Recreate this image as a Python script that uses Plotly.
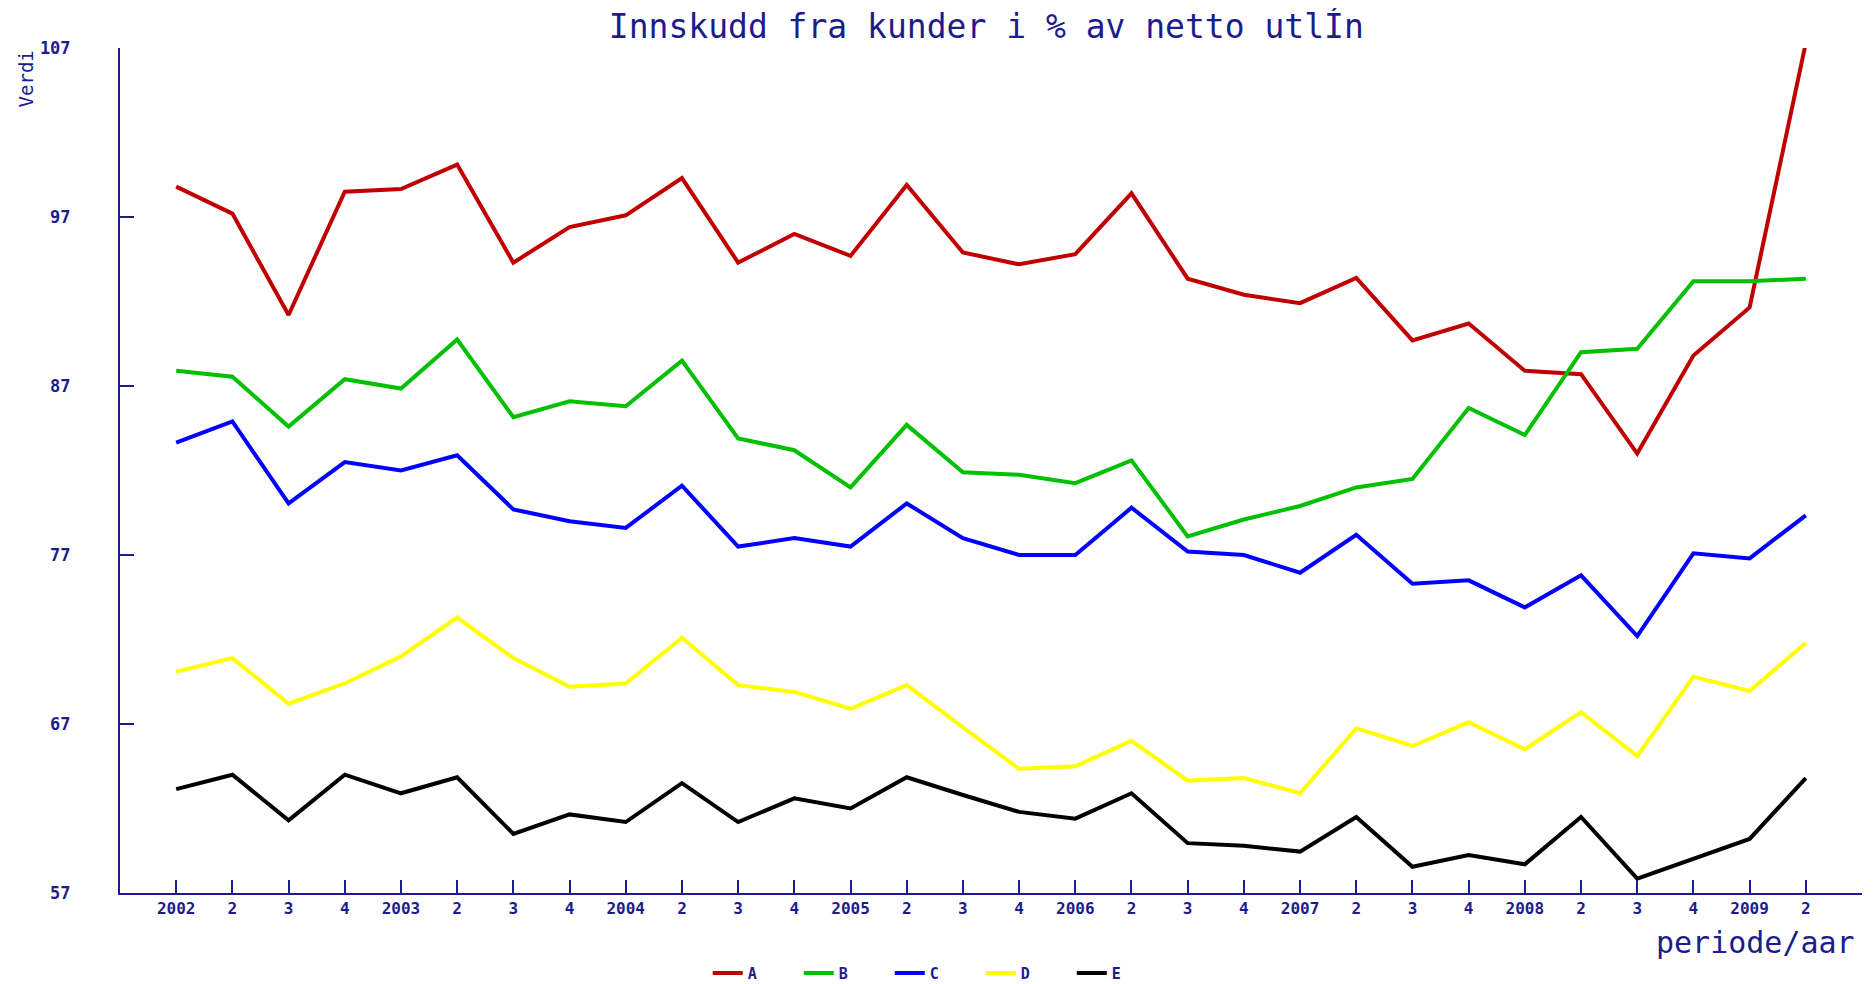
import plotly.graph_objects as go

# x categories: quarter within year, year shown at first quarter
periods = ["2002", "2", "3", "4", "2003", "2", "3", "4", "2004", "2", "3", "4",
           "2005", "2", "3", "4", "2006", "2", "3", "4", "2007", "2", "3", "4",
           "2008", "2", "3", "4", "2009", "2"]

series_a = [98.8, 97.2, 91.2, 98.5, 98.65, 100.1, 94.3, 96.4, 97.1, 99.3,
            94.3, 96.0, 94.7, 98.9, 94.9, 94.2, 94.8, 98.4, 93.35, 92.4,
            91.9, 93.4, 89.7, 90.7, 87.9, 87.7, 83.0, 88.8, 91.65, 107.3]
series_b = [87.9, 87.55, 84.6, 87.4, 86.85, 89.75, 85.15, 86.1, 85.8, 88.5,
            83.9, 83.2, 81.0, 84.7, 81.9, 81.75, 81.25, 82.6, 78.1, 79.1,
            79.9, 81.0, 81.5, 85.7, 84.1, 89.0, 89.2, 93.2, 93.2, 93.35]
series_c = [83.65, 84.9, 80.05, 82.5, 82.0, 82.9, 79.7, 79.0, 78.6, 81.1,
            77.5, 78.0, 77.5, 80.05, 78.0, 77.0, 77.0, 79.8, 77.2, 77.0,
            75.95, 78.2, 75.3, 75.5, 73.9, 75.8, 72.2, 77.1, 76.8, 79.35]
series_d = [70.1, 70.9, 68.2, 69.4, 71.0, 73.3, 70.9, 69.2, 69.4, 72.1,
            69.3, 68.9, 67.9, 69.3, 66.8, 64.35, 64.5, 66.0, 63.65, 63.8,
            62.9, 66.75, 65.7, 67.1, 65.5, 67.7, 65.1, 69.8, 68.95, 71.8]
series_e = [63.15, 64.0, 61.3, 64.0, 62.9, 63.85, 60.5, 61.65, 61.2, 63.5,
            61.2, 62.6, 62.0, 63.85, 62.8, 61.8, 61.4, 62.9, 59.95, 59.8,
            59.45, 61.5, 58.55, 59.25, 58.7, 61.5, 57.85, 59.05, 60.2, 63.8]

names = ["A", "B", "C", "D", "E"]
colors = ["#c00000", "#00c000", "#0000ff", "#ffff00", "#000000"]
y_ticks = [57, 67, 77, 87, 97, 107]

NAVY = "#1c1c8c"
MONO = "DejaVu Sans Mono"

x = list(range(len(periods)))

fig = go.Figure()
for name, col, vals in zip(names, colors,
                           [series_a, series_b, series_c, series_d, series_e]):
    fig.add_trace(go.Scatter(x=x, y=vals, mode="lines", name=name,
                             line=dict(color=col, width=4)))

# page body has an 8px margin, so shift everything up/left by 8px;
# the figure is made a little taller so the legend has room below
fig.update_layout(
    width=1867, height=1000,
    margin=dict(l=112, r=13, t=40, b=115),
    plot_bgcolor="white", paper_bgcolor="white",
    title=dict(text="Innskudd fra kunder i % av netto utlÍn",
               x=0.524, xanchor="center", y=0.982, yanchor="middle",
               font=dict(family=MONO, size=33, color=NAVY)),
    legend=dict(orientation="h", x=0.468, xanchor="center",
                y=-0.095, yanchor="middle",
                font=dict(family=MONO, size=15, color=NAVY, weight="bold"),
                entrywidth=46, entrywidthmode="pixels", tracegroupgap=0),
    showlegend=True,
)

fig.update_xaxes(
    range=[-1, len(periods)], tickmode="array", tickvals=x, ticktext=periods,
    showgrid=False, zeroline=False, automargin=False,
    showline=True, linecolor=NAVY, linewidth=2,
    ticks="inside", ticklen=13, tickcolor=NAVY, tickwidth=2,
    tickfont=dict(family=MONO, size=16, color=NAVY, weight="bold"),
)
fig.update_yaxes(
    range=[57, 107], tickvals=y_ticks,
    showgrid=False, zeroline=False, automargin=False,
    showline=True, linecolor=NAVY, linewidth=2,
    ticks="inside", ticklen=14, tickcolor=NAVY, tickwidth=2,
    ticklabelstandoff=44,
    tickfont=dict(family=MONO, size=17, color=NAVY, weight="bold"),
)

fig.add_annotation(text="Verdi", xref="paper", yref="paper",
                   x=-0.054, y=1.0, xanchor="center", yanchor="top",
                   textangle=-90, showarrow=False,
                   font=dict(family=MONO, size=19, color=NAVY))
fig.add_annotation(text="periode/aar", xref="paper", yref="paper",
                   x=0.997, y=-0.058, xanchor="right", yanchor="middle",
                   showarrow=False,
                   font=dict(family=MONO, size=30, color=NAVY))

fig.write_html("out.html")
